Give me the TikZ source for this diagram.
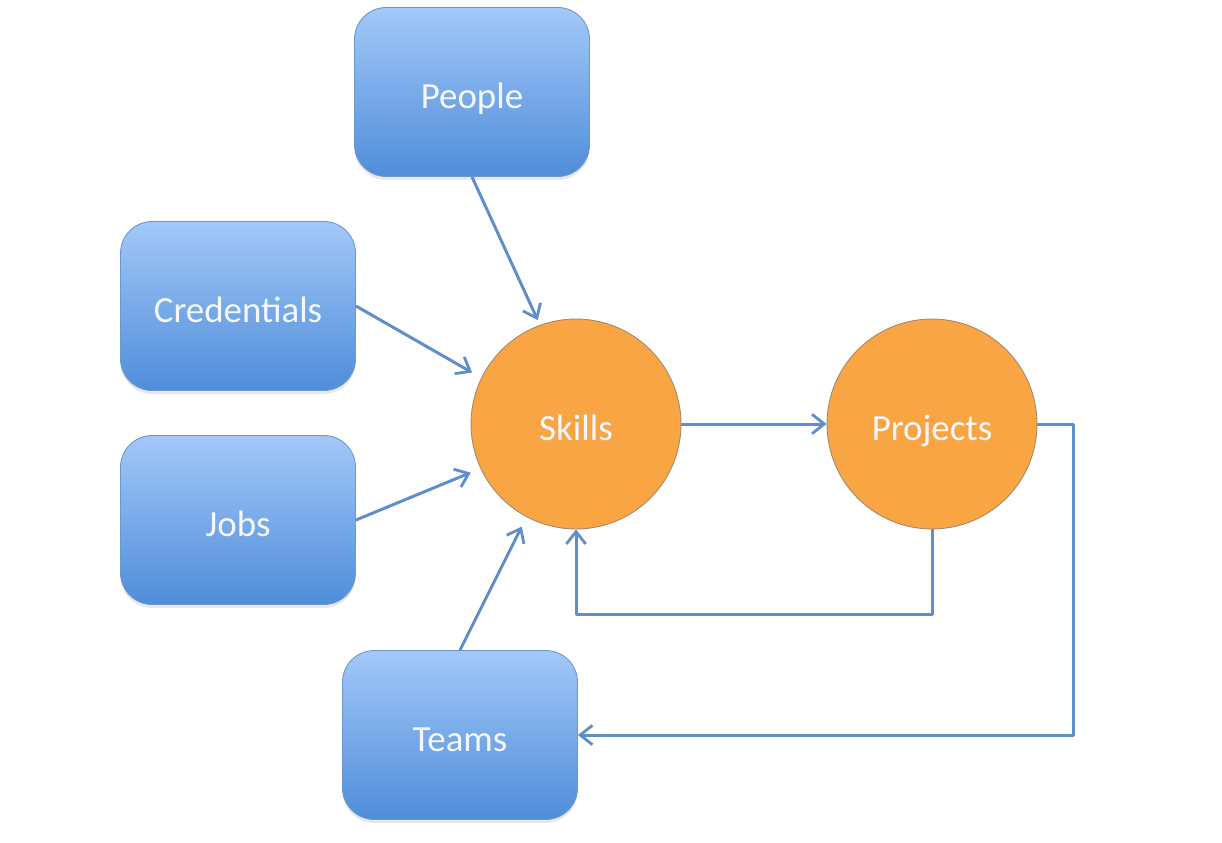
\documentclass[tikz,border=0pt]{standalone}
\usepackage{fontspec}
\setmainfont{Carlito}
\usepackage{tikz}
\usetikzlibrary{positioning, arrows.meta, shadows}
\definecolor{boxTop}{HTML}{A3C8F8}
\definecolor{boxBot}{HTML}{4F8DDA}
\definecolor{boxEdge}{HTML}{6E98CB}
\definecolor{orFill}{HTML}{F9A544}
\definecolor{orEdge}{HTML}{A08A70}
\definecolor{lnInk}{HTML}{5F8FCB}
\definecolor{txtInk}{HTML}{F4F8FC}
\tikzset{
  bluebox/.style={rectangle, rounded corners=18pt, minimum width=4.7cm, minimum height=3.38cm,
    top color=boxTop, bottom color=boxBot, draw=boxEdge, line width=0.5pt,
    drop shadow={opacity=0.18, shadow xshift=0pt, shadow yshift=-2pt},
    text=txtInk, font=\fontsize{21}{24}\selectfont, text height=19pt, text depth=0pt},
  orcircle/.style={circle, minimum size=4.2cm, fill=orFill, draw=orEdge, line width=0.5pt,
    text=txtInk, font=\fontsize{21}{24}\selectfont, text height=19pt, text depth=0pt},
  link/.style={-{Straight Barb[length=7pt, width=11pt, line width=1.6pt]}, lnInk, line width=1.7pt}
}

\begin{document}
\begin{tikzpicture}[x=0.02cm, y=-0.02cm]
  \useasboundingbox (0,0) rectangle (1222,842);
  % boxes
  \node[bluebox] (people) at (472,92) {People};
  \node[bluebox] (cred) at (238,306) {Credentials};
  \node[bluebox] (jobs) at (238,520) {Jobs};
  \node[bluebox] (teams) at (460,735) {Teams};
  % circles
  \node[orcircle] (skills) at (576,424) {Skills};
  \node[orcircle] (projects) at (932,424) {Projects};
  % inputs to skills
  \draw[link, shorten >=3pt] (people.south) -- (skills.110);
  \draw[link, shorten >=6pt] (cred.east) -- (skills.154);
  \draw[link, shorten >=6pt] (jobs.east) -- (skills.205);
  \draw[link, shorten >=6pt] (teams.north) -- (skills.242);
  \draw[link] (skills.east) -- (projects.west);
  % feedback loops
  \draw[link, line join=round] (projects.south) -- ++(0,85) -| (skills.south);
  \draw[link, line join=round] (projects.east) -- ++(36,0) |- (teams.east);
\end{tikzpicture}
\end{document}
